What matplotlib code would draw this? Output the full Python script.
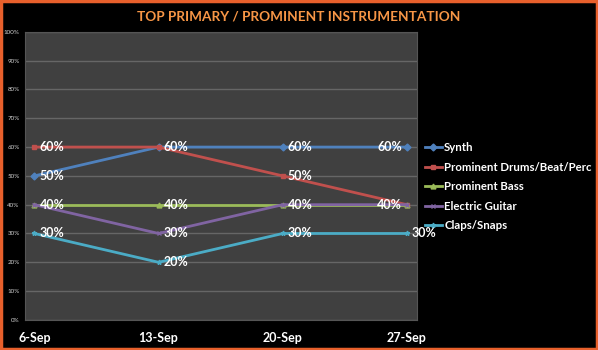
import matplotlib.pyplot as plt
from matplotlib.patches import Rectangle

weeks = ['6-Sep', '13-Sep', '20-Sep', '27-Sep']
synth = [50, 60, 60, 60]
drums = [60, 60, 50, 40]
bass = [40, 40, 40, 40]
guitar = [40, 30, 40, 40]
claps = [30, 20, 30, 30]

series = [
    ('Synth', synth, '#4F81BD', 'D'),
    ('Prominent Drums/Beat/Perc', drums, '#C0504D', 's'),
    ('Prominent Bass', bass, '#9BBB59', '^'),
    ('Electric Guitar', guitar, '#8064A2', 'x'),
    ('Claps/Snaps', claps, '#4BACC6', '*'),
]

plt.rcParams['font.family'] = ['Lato', 'DejaVu Sans']

fig = plt.figure(figsize=(5.98, 3.5), dpi=100, facecolor='black')
ax = fig.add_axes([0.042, 0.086, 0.655, 0.823])
ax.set_facecolor('#404040')

x = list(range(len(weeks)))
for name, vals, color, marker in series:
    ax.plot(x, vals, color=color, lw=2, marker=marker, ms=3.5,
            mec=color, label=name, zorder=3)

# value labels: right of the point, left of it on the last week
labelled = set()
for name, vals, color, marker in series:
    for i, v in enumerate(vals):
        if (i, v) in labelled:
            continue
        labelled.add((i, v))
        if i == 3 and v != 30:
            ax.text(i - 0.04, v, f'{v}%', color='white', fontsize=9,
                    fontweight='bold', ha='right', va='center', zorder=4)
        else:
            ax.text(i + 0.04, v, f'{v}%', color='white', fontsize=9,
                    fontweight='bold', ha='left', va='center', zorder=4)

ax.set_xlim(-0.075, 3.08)
ax.set_ylim(0, 100)
ax.set_yticks(range(0, 101, 10))
ax.set_yticklabels([f'{t}%' for t in range(0, 101, 10)], fontsize=4.5, color='#d0d0d0')
ax.set_xticks(x)
ax.set_xticklabels(weeks, fontsize=9, fontweight='bold', color='white')
ax.tick_params(axis='both', length=0)
ax.tick_params(axis='x', pad=9)
ax.tick_params(axis='y', pad=4)
ax.grid(axis='y', color='#666666', lw=1)
ax.set_axisbelow(True)
for side in ax.spines.values():
    side.set_color('#555555')

leg = ax.legend(loc='upper left', bbox_to_anchor=(1.0, 0.645), frameon=False,
                labelcolor='white', prop={'weight': 'bold', 'size': 8.2},
                handlelength=1.5, handletextpad=0.2, labelspacing=0.75,
                borderaxespad=0.3)

fig.text(0.5, 0.953, 'TOP PRIMARY / PROMINENT INSTRUMENTATION', ha='center',
         va='center', color='#F79646', fontsize=9.8, fontweight='bold')

# orange frame round the whole figure
fig.patches.append(Rectangle((0.002, 0.003), 0.996, 0.994, transform=fig.transFigure,
                             fill=False, edgecolor='#E8602C', lw=2.5))

fig.savefig('out.png', dpi=100, facecolor='black')
